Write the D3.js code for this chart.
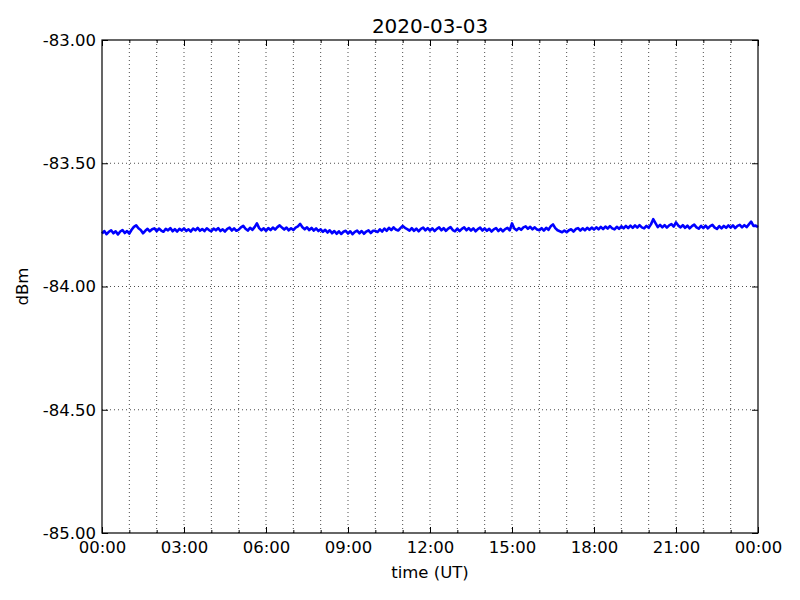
<!DOCTYPE html>
<html><head><meta charset="utf-8">
<script src="https://cdn.jsdelivr.net/npm/d3@7"></script>
<style>body{margin:0;background:#fff}text{font-family:"DejaVu Sans",sans-serif}</style>
</head><body><svg id="c" width="800" height="600"></svg>
<script>
const title = "2020-03-03";
const yTicks = [-85.0, -84.5, -84.0, -83.5, -83.0];
const xTickLabels = ["00:00","03:00","06:00","09:00","12:00","15:00","18:00","21:00","00:00"];
const stepMinutes = 5;
const dbm = [
-83.785,-83.775,-83.788,-83.778,-83.772,-83.784,-83.776,-83.789,-83.777,-83.771,-83.783,-83.775,
-83.785,-83.770,-83.758,-83.752,-83.764,-83.771,-83.784,-83.774,-83.766,-83.776,-83.768,-83.764,
-83.776,-83.765,-83.773,-83.778,-83.766,-83.772,-83.763,-83.776,-83.767,-83.777,-83.766,-83.773,
-83.764,-83.775,-83.768,-83.777,-83.765,-83.772,-83.762,-83.774,-83.767,-83.775,-83.764,-83.771,
-83.776,-83.765,-83.772,-83.763,-83.775,-83.768,-83.777,-83.766,-83.761,-83.773,-83.764,-83.774,
-83.769,-83.760,-83.754,-83.766,-83.773,-83.762,-83.770,-83.759,-83.744,-83.763,-83.772,-83.764,
-83.774,-83.763,-83.771,-83.761,-83.769,-83.759,-83.752,-83.761,-83.769,-83.761,-83.772,-83.764,
-83.771,-83.761,-83.756,-83.746,-83.760,-83.768,-83.760,-83.771,-83.762,-83.773,-83.764,-83.775,
-83.768,-83.778,-83.770,-83.781,-83.772,-83.784,-83.775,-83.786,-83.776,-83.787,-83.778,-83.774,
-83.785,-83.776,-83.788,-83.778,-83.773,-83.784,-83.775,-83.786,-83.777,-83.772,-83.783,-83.774,
-83.774,-83.779,-83.768,-83.777,-83.765,-83.774,-83.762,-83.771,-83.760,-83.769,-83.773,-83.763,
-83.754,-83.762,-83.767,-83.773,-83.763,-83.774,-83.765,-83.776,-83.766,-83.761,-83.772,-83.763,
-83.773,-83.764,-83.775,-83.766,-83.760,-83.772,-83.763,-83.774,-83.765,-83.759,-83.771,-83.776,
-83.765,-83.775,-83.766,-83.760,-83.772,-83.763,-83.773,-83.764,-83.776,-83.767,-83.761,-83.773,
-83.764,-83.774,-83.766,-83.777,-83.768,-83.763,-83.775,-83.766,-83.776,-83.767,-83.762,-83.772,
-83.744,-83.765,-83.772,-83.763,-83.770,-83.760,-83.756,-83.766,-83.758,-83.768,-83.760,-83.769,
-83.772,-83.763,-83.773,-83.762,-83.770,-83.756,-83.748,-83.763,-83.772,-83.776,-83.780,-83.773,
-83.780,-83.772,-83.768,-83.777,-83.767,-83.763,-83.773,-83.764,-83.772,-83.762,-83.770,-83.761,
-83.769,-83.760,-83.768,-83.758,-83.767,-83.757,-83.765,-83.755,-83.764,-83.768,-83.758,-83.766,
-83.756,-83.764,-83.754,-83.763,-83.753,-83.762,-83.752,-83.761,-83.751,-83.760,-83.764,-83.754,
-83.762,-83.748,-83.727,-83.743,-83.759,-83.750,-83.760,-83.751,-83.761,-83.752,-83.747,-83.757,
-83.740,-83.753,-83.760,-83.751,-83.762,-83.753,-83.764,-83.755,-83.749,-83.760,-83.765,-83.754,
-83.763,-83.753,-83.764,-83.755,-83.750,-83.761,-83.766,-83.755,-83.764,-83.754,-83.762,-83.752,
-83.761,-83.752,-83.763,-83.754,-83.750,-83.760,-83.751,-83.759,-83.748,-83.737,-83.754,-83.753,
-83.759
];

const L = 102, R = 758, T = 40, B = 533;
const svg = d3.select("#c");
const t0 = new Date(Date.UTC(2020, 2, 3, 0, 0));
const t1 = new Date(Date.UTC(2020, 2, 4, 0, 0));
const x = d3.scaleUtc().domain([t0, t1]).range([L, R]);
const y = d3.scaleLinear().domain([-85, -83]).range([B, T]);
const data = dbm.map((v, i) => ({t: new Date(t0.getTime() + i * stepMinutes * 60000), v}));

const hours = d3.utcHour.every(1).range(t0, d3.utcHour.offset(t1, 1));
const major = d3.utcHour.every(3).range(t0, d3.utcHour.offset(t1, 1));

// grid
const g = svg.append("g");
g.selectAll("line.vg").data(hours.filter(h => h > t0 && h < t1)).join("line")
  .attr("x1", d => x(d)).attr("x2", d => x(d)).attr("y1", T).attr("y2", B)
  .attr("stroke", "#000").attr("stroke-width", 0.7).attr("stroke-dasharray", "1,3");
g.selectAll("line.hg").data(yTicks.filter(v => v > -85 && v < -83)).join("line")
  .attr("x1", L).attr("x2", R).attr("y1", d => y(d)).attr("y2", d => y(d))
  .attr("stroke", "#000").attr("stroke-width", 0.7).attr("stroke-dasharray", "1,3");

// line
svg.append("path").datum(data)
  .attr("d", d3.line().x(d => x(d.t)).y(d => y(d.v)))
  .attr("fill", "none").attr("stroke", "#0000ff").attr("stroke-width", 2.6).attr("stroke-linejoin", "round");

// axes with inward ticks
const xb = svg.append("g").attr("transform", `translate(0,${B})`)
  .call(d3.axisBottom(x).tickValues(major).tickSize(-6).tickPadding(8).tickFormat((d, i) => xTickLabels[i]));
const xbm = svg.append("g").attr("transform", `translate(0,${B})`)
  .call(d3.axisBottom(x).tickValues(hours.filter((h, i) => i % 3 !== 0)).tickSize(-3).tickFormat(""));
const xt = svg.append("g").attr("transform", `translate(0,${T})`)
  .call(d3.axisTop(x).tickValues(major).tickSize(-6).tickFormat(""));
const xtm = svg.append("g").attr("transform", `translate(0,${T})`)
  .call(d3.axisTop(x).tickValues(hours.filter((h, i) => i % 3 !== 0)).tickSize(-3).tickFormat(""));
const yl = svg.append("g").attr("transform", `translate(${L},0)`)
  .call(d3.axisLeft(y).tickValues(yTicks).tickSize(-6).tickPadding(6).tickFormat(d3.format(".2f")));
const yr = svg.append("g").attr("transform", `translate(${R},0)`)
  .call(d3.axisRight(y).tickValues(yTicks).tickSize(-6).tickFormat(""));
[xb, xbm, xt, xtm, yl, yr].forEach(a => {
  a.select(".domain").remove();
  a.selectAll("line").attr("stroke", "#000");
  a.selectAll("text").attr("font-family", "DejaVu Sans").attr("font-size", 16.5).attr("fill", "#000");
});
yl.selectAll("text").text(d => d3.format(".2f")(d).replace("−", "-"));

svg.append("rect").attr("x", L).attr("y", T).attr("width", R - L).attr("height", B - T)
  .attr("fill", "none").attr("stroke", "#000").attr("stroke-width", 1.2);

svg.append("text").attr("x", (L + R) / 2).attr("y", 33).attr("text-anchor", "middle")
  .attr("font-size", 20).text(title);
svg.append("text").attr("x", (L + R) / 2).attr("y", 578).attr("text-anchor", "middle")
  .attr("font-size", 16.5).text("time (UT)");
svg.append("text").attr("transform", `translate(28,${(T + B) / 2}) rotate(-90)`)
  .attr("text-anchor", "middle").attr("font-size", 16.5).text("dBm");
</script></body></html>
